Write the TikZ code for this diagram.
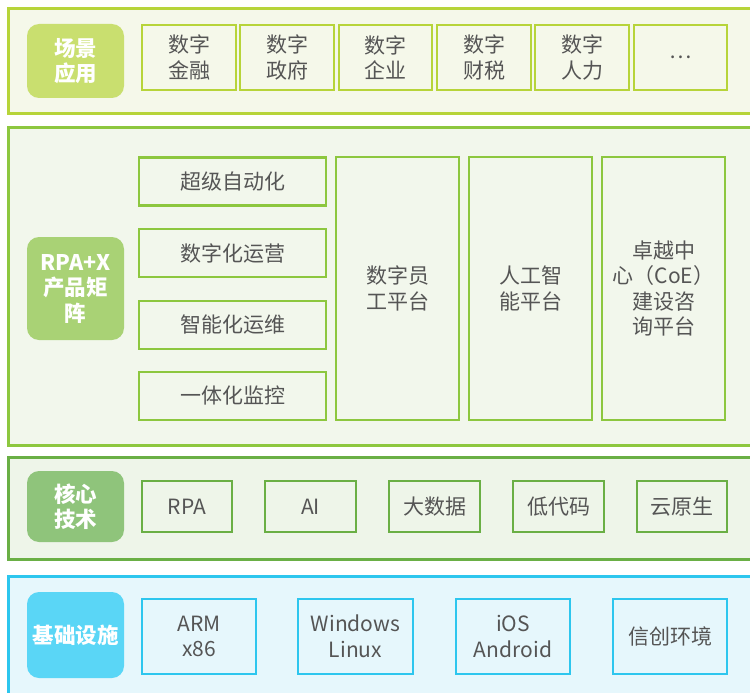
\documentclass[tikz,border=0pt]{standalone}
\usepackage{fontspec}
\setmainfont{Noto Sans CJK SC}
\definecolor{txt}{HTML}{555555}
\definecolor{bAline}{HTML}{B7D43A}\definecolor{bAfill}{HTML}{F5F8EA}\definecolor{bAlab}{HTML}{C9DF6F}
\definecolor{bBline}{HTML}{8DC73F}\definecolor{bBfill}{HTML}{F2F7EC}\definecolor{bBlab}{HTML}{A9D275}
\definecolor{bCline}{HTML}{6AAF45}\definecolor{bCfill}{HTML}{EEF5E9}\definecolor{bClab}{HTML}{8FC47B}
\definecolor{bDline}{HTML}{2DC6EE}\definecolor{bDfill}{HTML}{E6F7FC}\definecolor{bDlab}{HTML}{5AD6F6}
\tikzset{
  band/.style={line width=3pt},
  lab/.style={rounded corners=12pt, text=white, align=center, inner sep=0pt,
    font=\fontsize{21.5}{25.5}\selectfont\bfseries},
  cell/.style={draw, line width=2.4pt, text=txt, align=center, inner sep=0pt,
    font=\fontsize{21}{25.5}\selectfont},
}
\begin{document}
\begin{tikzpicture}[x=1pt,y=-1pt]
\useasboundingbox (0,0) rectangle (750,693);
\fill[white] (0,0) rectangle (750,693);
\clip (0,0) rectangle (750,693);
% bands
\draw[band, draw=bAline, fill=bAfill] (8,9) rectangle (770,113);
\draw[band, draw=bBline, fill=bBfill] (8,127) rectangle (770,445);
\draw[band, draw=bCline, fill=bCfill] (8,457) rectangle (770,559);
\draw[band, draw=bDline, fill=bDfill] (8,576) rectangle (770,720);
% band 1
\node[lab, fill=bAlab, minimum width=97pt, minimum height=74pt] (l1) at (75.5,61) {场景\\应用};
\node[cell, draw=bAline, minimum width=94pt, minimum height=65pt] (a1) at (189,57.5) {数字\\金融};
\node[cell, draw=bAline, minimum width=94pt, minimum height=65pt] (a2) at (287,57.5) {数字\\政府};
\node[cell, draw=bAline, minimum width=93pt, minimum height=65pt] (a3) at (385.5,57.5) {数字\\企业};
\node[cell, draw=bAline, minimum width=94pt, minimum height=65pt] (a4) at (484,57.5) {数字\\财税};
\node[cell, draw=bAline, minimum width=94pt, minimum height=65pt] (a5) at (582,57.5) {数字\\人力};
\node[cell, draw=bAline, minimum width=93pt, minimum height=65pt] (a6) at (680.5,57.5) {…};
% band 2
\node[lab, fill=bBlab, minimum width=97pt, minimum height=103pt] (l2) at (75.5,288.5) {RPA+X\\产品矩\\阵};
\node[cell, draw=bBline, minimum width=187pt, minimum height=48pt] (b1) at (232.5,181.5) {超级自动化};
\node[cell, draw=bBline, minimum width=187pt, minimum height=48pt] (b2) at (232.5,253) {数字化运营};
\node[cell, draw=bBline, minimum width=187pt, minimum height=48pt] (b3) at (232.5,325) {智能化运维};
\node[cell, draw=bBline, minimum width=187pt, minimum height=48pt] (b4) at (232.5,396) {一体化监控};
\node[cell, draw=bBline, minimum width=123pt, minimum height=263pt] (t1) at (397.5,288.5) {数字员\\工平台};
\node[cell, draw=bBline, minimum width=123pt, minimum height=263pt] (t2) at (530.5,288.5) {人工智\\能平台};
\node[cell, draw=bBline, minimum width=123pt, minimum height=263pt] (t3) at (663.5,288.5) {卓越中\\心（CoE）\\建设咨\\询平台};
% band 3
\node[lab, fill=bClab, minimum width=97pt, minimum height=71pt] (l3) at (75.5,506.5) {核心\\技术};
\node[cell, draw=bCline, minimum width=90pt, minimum height=51pt] (c1) at (187,506.5) {RPA};
\node[cell, draw=bCline, minimum width=91pt, minimum height=51pt] (c2) at (310.5,506.5) {AI};
\node[cell, draw=bCline, minimum width=91pt, minimum height=51pt] (c3) at (434.5,506.5) {大数据};
\node[cell, draw=bCline, minimum width=91pt, minimum height=51pt] (c4) at (558.5,506.5) {低代码};
\node[cell, draw=bCline, minimum width=90pt, minimum height=51pt] (c5) at (682,506.5) {云原生};
% band 4
\node[lab, fill=bDlab, minimum width=97pt, minimum height=86pt] (l4) at (75.5,635) {基础设施};
\node[cell, draw=bDline, minimum width=114pt, minimum height=75pt] (d1) at (199,636.5) {ARM\\x86};
\node[cell, draw=bDline, minimum width=115pt, minimum height=75pt] (d2) at (355.5,636.5) {Windows\\Linux};
\node[cell, draw=bDline, minimum width=114pt, minimum height=75pt] (d3) at (513,636.5) {iOS\\Android};
\node[cell, draw=bDline, minimum width=114pt, minimum height=75pt] (d4) at (670,636.5) {信创环境};
\end{tikzpicture}
\end{document}
